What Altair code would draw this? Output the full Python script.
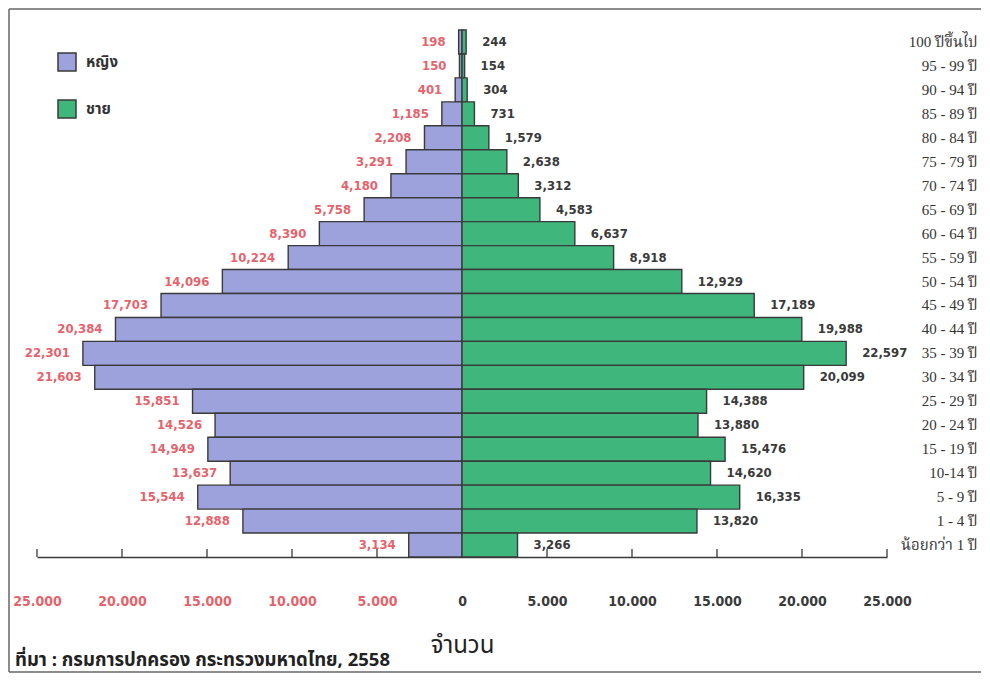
import altair as alt
import pandas as pd

ages = ["100 ปีขึ้นไป", "95 - 99 ปี", "90 - 94 ปี", "85 - 89 ปี", "80 - 84 ปี",
        "75 - 79 ปี", "70 - 74 ปี", "65 - 69 ปี", "60 - 64 ปี", "55 - 59 ปี",
        "50 - 54 ปี", "45 - 49 ปี", "40 - 44 ปี", "35 - 39 ปี", "30 - 34 ปี",
        "25 - 29 ปี", "20 - 24 ปี", "15 - 19 ปี", "10-14 ปี", "5 - 9 ปี",
        "1 - 4 ปี", "น้อยกว่า 1 ปี"]
female = [198, 150, 401, 1185, 2208, 3291, 4180, 5758, 8390, 10224, 14096,
          17703, 20384, 22301, 21603, 15851, 14526, 14949, 13637, 15544,
          12888, 3134]
male = [244, 154, 304, 731, 1579, 2638, 3312, 4583, 6637, 8918, 12929,
        17189, 19988, 22597, 20099, 14388, 13880, 15476, 14620, 16335,
        13820, 3266]
sexes = ["หญิง", "ชาย"]
tick_values = [-25000, -20000, -15000, -10000, -5000, 0, 5000, 10000, 15000, 20000, 25000]
source_text = "ที่มา : กรมการปกครอง กระทรวงมหาดไทย, 2558"
axis_title = "จำนวน"

rows = []
for a, f, m in zip(ages, female, male):
    rows.append({"age": a, "sex": sexes[0], "value": f, "signed": -f})
    rows.append({"age": a, "sex": sexes[1], "value": m, "signed": m})
df = pd.DataFrame(rows)

THAI = "Noto Sans Thai, Loma, Garuda, Kinnari, Norasi, Tlwg Typo, sans-serif"
NARROW = "Liberation Sans Narrow, DejaVu Sans Condensed, Roboto Condensed, sans-serif"
SERIF_T = "Liberation Serif, Kinnari, Norasi, Noto Serif Thai, serif"
RED = "#e5636c"
DARK = "#3a3a3a"
PURPLE = "#9ea2dc"
GREEN = "#3fb67b"
FRAME = "#666666"

W, H = 850, 527
PAD = {"left": 29, "top": 22, "right": 95, "bottom": 117}

xscale = alt.Scale(domain=[-25000, 25000], nice=False, zero=False)
yscale = alt.Scale(domain=ages, paddingInner=0, paddingOuter=0)

base = alt.Chart(df)

ticks = alt.Chart(alt.Data(values=[{"t": v} for v in tick_values])).mark_rule(
    color=DARK, strokeWidth=1.3
).encode(
    x=alt.X("t:Q", scale=xscale),
    y=alt.value(H - 8),
    y2=alt.value(H),
)

bars = base.mark_bar(stroke=DARK, strokeWidth=1.4).encode(
    x=alt.X(
        "signed:Q",
        scale=xscale,
        axis=alt.Axis(
            values=tick_values,
            labelExpr="replace(format(abs(datum.value), ','), ',', '.')",
            labelColor={"condition": {"test": "datum.value < 0", "value": RED}, "value": DARK},
            labelFont=NARROW,
            labelFontWeight="bold",
            labelFontSize=14,
            labelPadding=37,
            ticks=False,
            grid=False,
            domainColor=DARK,
            domainWidth=1.3,
            title=axis_title,
            titleFont=THAI,
            titleFontSize=24,
            titleFontWeight="normal",
            titleColor="#222",
            titlePadding=25,
            labelFlush=False,
        ),
    ),
    x2=alt.datum(0),
    y=alt.Y(
        "age:N",
        sort=ages,
        scale=yscale,
        axis=alt.Axis(
            orient="right",
            title=None,
            domain=False,
            ticks=False,
            grid=False,
            labelAlign="right",
            labelPadding=90,
            labelFont=SERIF_T,
            labelFontSize=15,
            labelColor="#333",
        ),
    ),
    color=alt.Color(
        "sex:N",
        scale=alt.Scale(domain=sexes, range=[PURPLE, GREEN]),
        legend=alt.Legend(
            title=None,
            orient="none",
            legendX=20,
            legendY=22,
            symbolType="square",
            symbolSize=324,
            symbolStrokeColor=DARK,
            symbolStrokeWidth=1.5,
            labelFont=THAI,
            labelFontSize=15,
            labelFontWeight="bold",
            labelColor="#333",
            labelOffset=9,
            rowPadding=23,
        ),
    ),
)

flabels = base.transform_filter(alt.datum.sex == sexes[0]).mark_text(
    align="right", baseline="middle", dx=-13, font=NARROW, fontWeight="bold",
    fontSize=13, color=RED
).encode(
    x=alt.X("signed:Q", scale=xscale),
    y=alt.Y("age:N", sort=ages, scale=yscale),
    text=alt.Text("value:Q", format=","),
)

mlabels = base.transform_filter(alt.datum.sex == sexes[1]).mark_text(
    align="left", baseline="middle", dx=16, font=NARROW, fontWeight="bold",
    fontSize=13, color=DARK
).encode(
    x=alt.X("signed:Q", scale=xscale),
    y=alt.Y("age:N", sort=ages, scale=yscale),
    text=alt.Text("value:Q", format=","),
)

fl, ft = -PAD["left"] + 1, -PAD["top"] + 1
fr, fb = W + PAD["right"] - 1, H + PAD["bottom"] - 2
one = alt.Data(values=[{"k": 0}])
frame_top = alt.Chart(one).mark_rule(color=FRAME, strokeWidth=1.5).encode(
    x=alt.value(fl), x2=alt.value(fr), y=alt.value(ft))
frame_left = alt.Chart(one).mark_rule(color=FRAME, strokeWidth=1.5).encode(
    x=alt.value(fl), y=alt.value(ft), y2=alt.value(fb))
frame_bottom = alt.Chart(one).mark_rule(color=FRAME, strokeWidth=1.5).encode(
    x=alt.value(fl), x2=alt.value(fr), y=alt.value(fb))

chart = alt.layer(
    ticks, bars, flabels, mlabels, frame_top, frame_left, frame_bottom
).properties(
    width=W,
    height=H,
    padding=PAD,
    autosize=alt.AutoSizeParams(type="none"),
    background="white",
    title=alt.TitleParams(
        source_text, orient="bottom", anchor="start", frame="group", dx=-22,
        offset=-22, font=THAI, fontSize=18.5, fontWeight="bold", color="#222",
    ),
).configure_view(stroke=None)

chart.save("out.html", embed_options={"renderer": "svg", "actions": False})
